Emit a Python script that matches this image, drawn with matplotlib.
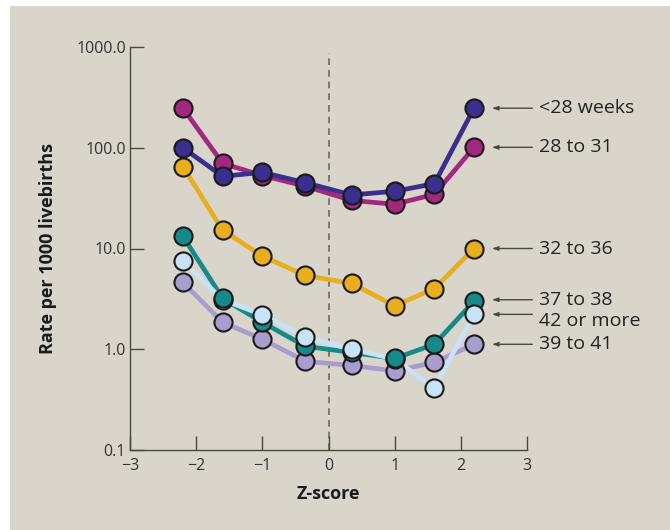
import matplotlib
matplotlib.use("Agg")
import matplotlib.pyplot as plt
from matplotlib.patches import Rectangle

plt.rcParams['font.family'] = ['Open Sans', 'DejaVu Sans']

# z-score positions
zscore = [-2.2, -1.6, -1.0, -0.35, 0.35, 1.0, 1.6, 2.2]

# rates per 1000 livebirths by gestational age group
lt28 = [100, 52, 57, 45, 34, 37, 44, 247]
w28_31 = [247, 70, 53, 41.5, 30, 27.5, 34.5, 101]
w32_36 = [65, 15.2, 8.4, 5.4, 4.5, 2.7, 4.0, 10]
w37_38 = [13.2, 3.2, 1.85, 1.07, 0.93, 0.81, 1.12, 3.0]
w42plus = [7.5, 3.1, 2.2, 1.32, 1.0, 0.8, 0.41, 2.25]
w39_41 = [4.6, 1.85, 1.26, 0.76, 0.69, 0.61, 0.74, 1.12]

# points of "42 or more" that sit behind the 37 to 38 markers
hidden_42 = [1, 5]

# drawn bottom to top
series = [
    ("39 to 41", w39_41, "#a89dce"),
    ("37 to 38", w37_38, "#16898a"),
    ("42 or more", w42plus, "#c7e3f5"),
    ("32 to 36", w32_36, "#e8ae1d"),
    ("28 to 31", w28_31, "#a2287f"),
    ("<28 weeks", lt28, "#3a2f8e"),
]
label_y = {"<28 weeks": 247, "28 to 31": 101, "32 to 36": 10,
           "37 to 38": 3.1, "42 or more": 2.22, "39 to 41": 1.12}
text_y = {"42 or more": 1.9}

bg = "#d9d5ca"
ink = "#4a4a3c"

fig = plt.figure(figsize=(6.7, 5.3), dpi=100, facecolor="white")
fig.patches.append(Rectangle((10 / 670, 0), 1, 1 - 6 / 530, transform=fig.transFigure,
                             facecolor=bg, edgecolor="none", zorder=-10))
ax = fig.add_axes([130 / 670, 1 - 450 / 530, 397 / 670, 403 / 530])
ax.set_facecolor("none")

ax.axvline(0, ymin=0, ymax=0.985, color="#6a6a60", lw=1.2, ls=(0, (4, 3)), zorder=1)

for i, (name, vals, col) in enumerate(series):
    ax.plot(zscore, vals, color=col, lw=3.4, zorder=2)
    if name == "42 or more":
        back = [j for j in range(len(vals)) if j in hidden_42]
        front = [j for j in range(len(vals)) if j not in hidden_42]
        ax.scatter([zscore[j] for j in back], [vals[j] for j in back], s=170,
                   c=col, edgecolors="#1a1a1a", linewidths=1.5, zorder=3 + i - 1.5)
        ax.scatter([zscore[j] for j in front], [vals[j] for j in front], s=170,
                   c=col, edgecolors="#1a1a1a", linewidths=1.5, zorder=3 + i)
    else:
        ax.scatter(zscore, vals, s=170, c=col, edgecolors="#1a1a1a",
                   linewidths=1.5, zorder=3 + i)
    ax.annotate("", xy=(2.47, label_y[name]), xytext=(3.08, label_y[name]),
                arrowprops=dict(arrowstyle="-|>,head_length=0.35,head_width=0.12",
                                color=ink, lw=1.0, shrinkA=0, shrinkB=0),
                annotation_clip=False)
    ax.text(3.18, text_y.get(name, label_y[name]), name, fontsize=14,
            color="#222222", va="center", ha="left", clip_on=False)

ax.set_yscale("log")
ax.set_xlim(-3, 3)
ax.set_ylim(0.1, 1000)
ax.set_yticks([0.1, 1, 10, 100, 1000])
ax.set_yticklabels(["0.1", "1.0", "10.0", "100.0", "1000.0"])
ax.minorticks_off()
ax.set_xticks([-3, -2, -1, 0, 1, 2, 3])
ax.set_xticklabels(["\u22123", "\u22122", "\u22121", "0", "1", "2", "3"])

for s in ["top", "right"]:
    ax.spines[s].set_visible(False)
for s in ["left", "bottom"]:
    ax.spines[s].set_color(ink)
    ax.spines[s].set_linewidth(1.0)
ax.tick_params(direction="in", length=10, width=1.0, color=ink,
               labelsize=11.5, labelcolor="#333333")
ax.tick_params(axis="y", pad=3)
ax.tick_params(axis="x", pad=6)

ax.set_xlabel("Z-score", fontsize=13, fontweight="bold", color="#1a1a1a", labelpad=8)
ax.set_ylabel("Rate per 1000 livebirths", fontsize=13, fontweight="bold",
              color="#1a1a1a", labelpad=14)

fig.savefig("out.png", dpi=100, facecolor=fig.get_facecolor())
